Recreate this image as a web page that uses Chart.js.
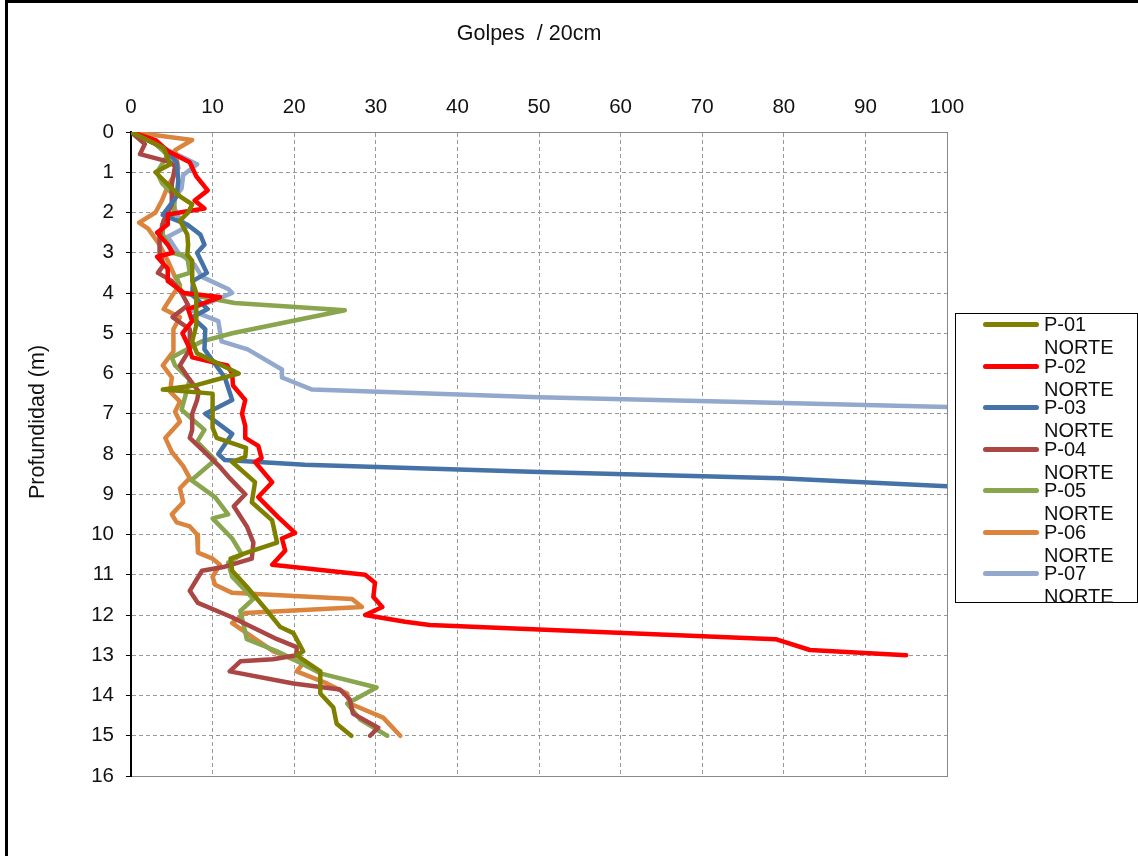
<!DOCTYPE html>
<html>
<head>
<meta charset="utf-8">
<script src="https://cdn.jsdelivr.net/npm/chart.js@4.4.1/dist/chart.umd.min.js"></script>
<style>
  body { margin: 0; background: #fff; }
  #wrap { position: relative; width: 1138px; height: 856px; overflow: hidden; }
  #frame { position: absolute; left: 5px; top: 0; width: 1200px; height: 900px;
    border-top: 3px solid #000; border-left: 3px solid #000; }
  canvas { position: absolute; left: 0; top: 0; }
  #legend { position: absolute; left: 955px; top: 313px; width: 181px; height: 288px;
    border: 1px solid #000; background: #fff; font-family: "Liberation Sans", Arial, sans-serif;
    font-size: 20px; color: #111; }
  .item { position: absolute; left: 0; }
  .swatch { position: absolute; left: 27px; width: 56px; height: 5px; border-radius: 3px; }
  .label { position: absolute; left: 88px; line-height: 23px; white-space: nowrap; }
</style>
</head>
<body>
<div id="wrap">
  <div id="frame"></div>
  <canvas id="chart" width="1138" height="856"></canvas>
  <div id="legend"></div>
</div>
<script>
const seriesNames = ["P-01", "P-02", "P-03", "P-04", "P-05", "P-06", "P-07"];
const seriesSuffix = "NORTE";
const colors = ["#808000", "#FF0000", "#4572A7", "#AA4643", "#89A54E", "#DB843D", "#92A8CD"];

const xTicks = [0, 10, 20, 30, 40, 50, 60, 70, 80, 90, 100];
const yTicks = [0, 1, 2, 3, 4, 5, 6, 7, 8, 9, 10, 11, 12, 13, 14, 15, 16];

// depth (m) / blows per 20cm
const p01Depth = [0, 0.4, 0.8, 1.0, 1.2, 1.6, 1.8, 2.0, 2.2, 2.55, 2.8, 3.05, 3.2, 3.7, 4.0, 4.4, 4.8, 5.2, 5.5, 6.0, 6.3, 6.4, 6.5, 7.0, 7.35, 7.6, 7.85, 8.07, 8.2, 8.7, 9.2, 9.65, 10.2, 10.45, 10.6, 10.9, 11.3, 11.9, 12.3, 12.45, 12.9, 13.0, 13.4, 13.95, 14.3, 14.7, 15.0];
const p01Blows = [0, 4, 4.8, 3, 4, 6, 7.5, 7, 6, 6.9, 7, 6.9, 7.5, 7.5, 8, 8, 8, 7.5, 8.1, 13.2, 7.8, 3.9, 10, 10, 10, 10.5, 14.1, 14, 12.4, 15.2, 14.8, 17.3, 17.9, 14.2, 12.2, 12.4, 14.2, 16.7, 18.3, 19.9, 21.1, 20.3, 23.2, 23.2, 24.8, 25.2, 27];

const p02Depth = [0, 0.2, 0.47, 0.75, 1.1, 1.45, 1.7, 1.9, 2.05, 2.3, 2.5, 2.8, 3.0, 3.1, 3.4, 3.7, 4.0, 4.1, 4.4, 4.7, 5.0, 5.3, 5.6, 5.8, 6.0, 6.3, 6.66, 7.0, 7.3, 7.6, 7.8, 8.1, 8.2, 8.7, 9.07, 9.56, 9.96, 10.1, 10.4, 10.75, 11.0, 11.2, 11.55, 11.8, 12.0, 12.17, 12.25, 12.6, 12.87, 13.0];
const p02Blows = [0, 3, 4.5, 7.2, 8, 9.4, 7.8, 9, 4.5, 4.5, 3.2, 4.5, 5.1, 3.2, 4.5, 4.5, 6.5, 10.9, 7, 7.5, 6.3, 7, 7.5, 11.8, 12.4, 12.5, 14, 13.6, 14, 14, 15.6, 16, 15.2, 17.3, 15.6, 18, 20.1, 18.5, 18.9, 17.3, 28.7, 29.9, 29.7, 30.8, 28.7, 33.6, 36.6, 79, 83.2, 95];

const p03Depth = [0, 0.4, 0.75, 1.2, 1.6, 2.06, 2.3, 2.55, 2.8, 3.0, 3.5, 3.7, 4.05, 4.4, 4.6, 4.9, 5.4, 6.1, 6.66, 7.0, 7.5, 8.0, 8.15, 8.27, 8.45, 8.6, 8.8];
const p03Blows = [0, 4, 5.6, 5.8, 5.6, 3.9, 6.9, 8.5, 9, 8.1, 9.3, 7.6, 7.5, 9.4, 7.5, 9.1, 9, 11.5, 12.4, 9.1, 12.4, 10.7, 11.5, 21.3, 50, 79.5, 100];

const p04Depth = [0, 0.3, 0.55, 0.75, 0.85, 1.3, 1.8, 2.2, 2.6, 3.0, 3.3, 3.5, 3.7, 4.0, 4.3, 4.6, 4.9, 5.4, 5.8, 6.1, 6.45, 6.66, 7.0, 7.4, 7.6, 7.95, 8.3, 8.6, 9.0, 9.3, 9.8, 10.2, 10.6, 10.8, 10.9, 11.1, 11.4, 11.7, 12.05, 12.6, 12.8, 13.0, 13.1, 13.15, 13.4, 13.7, 13.85, 14.1, 14.45, 14.8, 15.0];
const p04Blows = [0, 1.7, 1.1, 4.8, 5.4, 5, 5, 4, 3.5, 3.5, 4, 3.3, 5, 6.2, 7, 5.1, 7.2, 7.2, 6, 7, 8.3, 8.1, 7.5, 7.5, 7.2, 9, 10.8, 12.1, 14, 12.6, 14.2, 15, 14.8, 11.5, 8.7, 8.1, 7.2, 8.2, 12.3, 17.9, 20.3, 20.3, 17.4, 13.4, 12.1, 19.9, 25.6, 26.8, 27.2, 30.3, 29.3];

const p05Depth = [0, 0.3, 0.57, 1.0, 1.27, 1.6, 2.06, 2.3, 2.55, 3.0, 3.1, 3.5, 3.6, 4.0, 4.25, 4.43, 5.0, 5.2, 5.6, 5.8, 6.15, 6.6, 6.9, 7.4, 7.7, 8.15, 8.65, 9.07, 9.5, 9.6, 10.1, 10.5, 10.7, 11.05, 11.6, 11.9, 12.6, 12.9, 13.1, 13.45, 13.8, 14.2, 14.6, 15.0];
const p05Blows = [0, 3, 4.5, 3.2, 3.8, 5.4, 5.2, 3.8, 3.9, 5.1, 6.9, 7.2, 5.6, 6.2, 12.7, 26.2, 12.4, 8.7, 5.0, 5.4, 7.2, 6.6, 6.2, 9, 8.1, 10.3, 7.4, 10.3, 11.9, 10, 12.4, 13.6, 11.9, 12.4, 15, 13.4, 14.2, 17.9, 19.9, 23.2, 30.1, 26.5, 28.1, 31.4];

const p06Depth = [0, 0.2, 0.45, 0.9, 1.35, 1.7, 2.0, 2.25, 2.4, 2.8, 3.2, 3.6, 3.8, 4.05, 4.4, 4.6, 4.9, 5.45, 5.8, 6.1, 6.45, 6.7, 6.95, 7.2, 7.6, 7.95, 8.3, 8.6, 8.85, 9.2, 9.5, 9.7, 9.8, 10.0, 10.45, 10.6, 10.75, 11.05, 11.25, 11.45, 11.6, 11.8, 11.95, 12.2, 12.9, 13.2, 13.4, 13.7, 13.95, 14.2, 14.55, 15.0];
const p06Blows = [0, 7.5, 5.4, 5.8, 4.5, 3.8, 3, 1, 2.1, 3.5, 4.5, 5.4, 6, 5.1, 4, 6, 5.2, 5.2, 3.9, 5, 4.8, 6, 5.4, 6, 4.2, 5, 6.4, 7.2, 6, 6.4, 5, 5.6, 7.2, 8.1, 8.2, 10, 10.9, 10, 10.3, 12.4, 27.1, 28.3, 14, 12.4, 17.4, 21.1, 20.3, 24, 26.5, 26.8, 30.9, 33];

const p07Depth = [0, 0.8, 1.07, 1.4, 1.7, 2.06, 2.35, 2.6, 3.0, 3.3, 3.6, 3.9, 4.0, 4.2, 4.4, 4.7, 5.2, 5.4, 5.9, 6.1, 6.4, 6.59, 6.73, 6.83];
const p07Blows = [0, 8.1, 6.4, 6.2, 5.1, 5.6, 6.9, 4.5, 5.8, 7.8, 8.7, 11.9, 12.4, 10, 7, 10.7, 11.1, 14.3, 18.5, 18.5, 22.2, 50, 80, 100];

const depths = [p01Depth, p02Depth, p03Depth, p04Depth, p05Depth, p06Depth, p07Depth];
const blows = [p01Blows, p02Blows, p03Blows, p04Blows, p05Blows, p06Blows, p07Blows];

const font = { family: "Liberation Sans", size: 20.5 };

const datasets = seriesNames.map((name, i) => ({
  label: name + " " + seriesSuffix,
  data: depths[i].map((d, k) => ({ x: blows[i][k], y: d })),
  borderColor: colors[i],
  backgroundColor: colors[i],
  borderWidth: 4.5,
  pointRadius: 0,
  showLine: true,
  tension: 0,
  borderJoinStyle: "round",
  borderCapStyle: "round",
}));

// solid outline of the plot area (grid lines are dashed)
const plotFrame = {
  id: "plotFrame",
  beforeDatasetsDraw(chart) {
    const { ctx, chartArea: a } = chart;
    ctx.save();
    ctx.strokeStyle = "#888";
    ctx.lineWidth = 1;
    ctx.strokeRect(a.left + 0.5, a.top + 0.5, a.right - a.left, a.bottom - a.top);
    ctx.strokeStyle = "#000";
    ctx.lineWidth = 2;
    ctx.beginPath();
    ctx.moveTo(a.left, a.top);
    ctx.lineTo(a.left, a.bottom + 1);
    ctx.stroke();
    ctx.restore();
  },
};

const axisTitles = {
  id: "axisTitles",
  afterDraw(chart) {
    const { ctx } = chart;
    ctx.save();
    ctx.fillStyle = "#111";
    ctx.font = "21.5px " + font.family;
    ctx.textAlign = "center";
    ctx.textBaseline = "middle";
    ctx.fillText("Golpes  / 20cm", 529, 34);
    ctx.translate(38, 422);
    ctx.rotate(-Math.PI / 2);
    ctx.fillText("Profundidad (m)", 0, 0);
    ctx.restore();
  },
};

new Chart(document.getElementById("chart"), {
  type: "scatter",
  data: { datasets },
  options: {
    responsive: false,
    animation: false,
    layout: { padding: { left: 0, top: 0, right: 191, bottom: 80 } },
    plugins: { legend: { display: false }, tooltip: { enabled: false } },
    scales: {
      x: {
        type: "linear",
        position: "top",
        min: 0,
        max: 100,
        afterFit: (s) => { s.height = 132; },
        afterBuildTicks: (s) => { s.ticks = xTicks.map((v) => ({ value: v })); },
        ticks: { font, color: "#111", padding: 12, maxRotation: 0 },
        grid: { color: "#999", drawTicks: false },
        border: { color: "#888", width: 1, dash: [4, 3] },
      },
      y: {
        type: "linear",
        reverse: true,
        min: 0,
        max: 16,
        afterFit: (s) => { s.width = 131; },
        afterBuildTicks: (s) => { s.ticks = yTicks.map((v) => ({ value: v })); },
        ticks: { font, color: "#111", padding: 12 },
        grid: { color: "#999", tickLength: 5, tickColor: "#000", tickBorderDash: [] },
        border: { color: "#000", width: 2, dash: [4, 3] },
      },
    },
  },
  plugins: [plotFrame, axisTitles],
});

// legend: two-line labels
const legend = document.getElementById("legend");
seriesNames.forEach((name, i) => {
  const top = 8 + i * 41.5;
  const item = document.createElement("div");
  item.className = "item";
  item.style.top = top + "px";
  item.innerHTML =
    '<div class="swatch" style="top:0;background:' + colors[i] + '"></div>' +
    '<div class="label" style="top:-9px">' + name + "<br>" + seriesSuffix + "</div>";
  legend.appendChild(item);
});
</script>
</body>
</html>
